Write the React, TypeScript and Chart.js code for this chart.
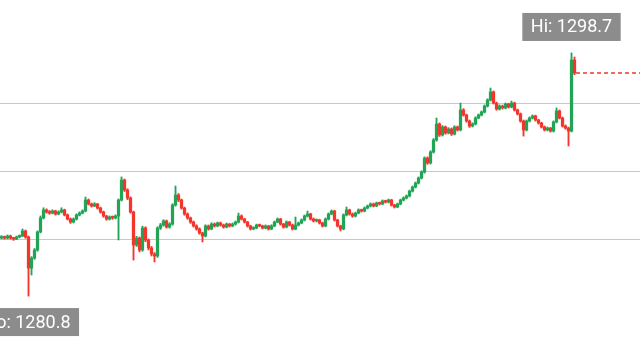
import React, { useEffect, useRef } from "react";
import { Chart, registerables } from "chart.js";

Chart.register(...registerables);

// ---- Data (prices) ----
const opens = [
  1285.07, 1285.15, 1285.07, 1285.22, 1285.07, 1285.00, 1285.15, 1285.22, 1285.59, 1285.15,
  1282.86, 1283.60, 1284.19, 1285.52, 1286.55, 1287.14, 1286.99, 1286.91, 1287.06, 1286.84,
  1286.99, 1287.14, 1286.77, 1286.47, 1286.25, 1286.47, 1286.77, 1286.91, 1287.06, 1287.87,
  1287.58, 1287.43, 1287.58, 1287.28, 1286.99, 1286.69, 1286.47, 1286.62, 1286.55, 1286.69,
  1287.87, 1289.34, 1288.61, 1288.02, 1286.99, 1284.56, 1285.07, 1284.19, 1285.81, 1284.93,
  1284.34, 1283.90, 1283.75, 1285.81, 1286.03, 1286.33, 1285.88, 1286.10, 1287.50, 1288.24,
  1287.87, 1287.28, 1286.84, 1286.55, 1286.25, 1285.96, 1285.74, 1285.44, 1285.22, 1285.96,
  1285.74, 1286.10, 1285.96, 1286.18, 1286.03, 1285.88, 1286.10, 1285.96, 1286.10, 1286.25,
  1286.69, 1286.47, 1286.25, 1285.96, 1285.74, 1285.81, 1286.03, 1285.96, 1285.81, 1285.96,
  1285.74, 1285.96, 1286.25, 1286.47, 1286.10, 1285.88, 1286.25, 1286.03, 1285.74, 1286.03,
  1286.18, 1286.40, 1286.69, 1286.84, 1286.47, 1286.33, 1286.40, 1286.18, 1285.96, 1286.47,
  1286.84, 1287.06, 1286.40, 1285.96, 1285.74, 1286.77, 1287.14, 1286.84, 1286.69, 1286.91,
  1287.14, 1287.06, 1287.28, 1287.43, 1287.58, 1287.43, 1287.65, 1287.58, 1287.80, 1287.72,
  1287.87, 1287.50, 1287.36, 1287.58, 1287.87, 1288.02, 1288.17, 1288.53, 1288.83, 1289.12,
  1289.49, 1289.93, 1290.96, 1290.60, 1291.41, 1292.29, 1293.47, 1292.66, 1293.25, 1292.81,
  1293.10, 1292.73, 1293.25, 1293.03, 1294.50, 1294.13, 1293.69, 1293.32, 1293.47, 1293.91,
  1294.13, 1294.35, 1294.79, 1295.24, 1295.83, 1295.01, 1294.57, 1294.79, 1294.65, 1294.94,
  1294.72, 1295.01, 1294.50, 1294.21, 1293.69, 1293.03, 1293.69, 1293.91, 1294.06, 1293.76,
  1293.54, 1293.25, 1293.03, 1293.17, 1292.95, 1293.62, 1294.43, 1293.91, 1293.32, 1293.17,
  1292.95, 1298.18,
];

const highs = [
  1285.25, 1285.22, 1285.30, 1285.29, 1285.12, 1285.22, 1285.30, 1285.74, 1285.66, 1285.22,
  1283.70, 1284.30, 1285.60, 1286.70, 1287.30, 1287.22, 1287.10, 1287.15, 1287.12, 1287.08,
  1287.30, 1287.20, 1286.85, 1286.55, 1286.55, 1286.85, 1287.00, 1287.15, 1288.09, 1287.95,
  1287.65, 1287.68, 1287.62, 1287.35, 1287.05, 1286.75, 1286.70, 1286.70, 1286.78, 1287.95,
  1289.57, 1289.42, 1288.70, 1288.10, 1287.05, 1285.20, 1285.15, 1285.95, 1285.90, 1285.00,
  1284.45, 1284.00, 1285.90, 1286.15, 1286.42, 1286.40, 1286.20, 1287.60, 1288.90, 1288.35,
  1287.95, 1287.35, 1286.92, 1286.62, 1286.32, 1286.05, 1285.82, 1285.50, 1286.05, 1286.03,
  1286.20, 1286.18, 1286.25, 1286.25, 1286.10, 1286.18, 1286.15, 1286.18, 1286.32, 1286.91,
  1286.78, 1286.52, 1286.30, 1286.02, 1285.90, 1286.10, 1286.10, 1286.02, 1286.04, 1286.00,
  1286.05, 1286.32, 1286.55, 1286.52, 1286.15, 1286.33, 1286.30, 1286.10, 1286.62, 1286.25,
  1286.48, 1286.77, 1287.06, 1286.90, 1286.55, 1286.48, 1286.46, 1286.24, 1286.55, 1286.92,
  1287.14, 1287.12, 1286.46, 1286.02, 1286.85, 1287.36, 1287.20, 1286.92, 1286.98, 1287.22,
  1287.20, 1287.36, 1287.50, 1287.66, 1287.64, 1287.72, 1287.72, 1287.88, 1287.86, 1287.95,
  1287.92, 1287.56, 1287.65, 1287.94, 1288.10, 1288.24, 1288.60, 1288.90, 1289.20, 1289.57,
  1290.02, 1291.05, 1291.05, 1291.50, 1292.40, 1293.91, 1293.55, 1293.35, 1293.32, 1293.20,
  1293.18, 1293.34, 1293.32, 1295.01, 1294.60, 1294.20, 1293.76, 1293.56, 1294.00, 1294.21,
  1294.43, 1294.87, 1295.32, 1296.12, 1295.90, 1295.08, 1294.88, 1294.86, 1295.02, 1295.00,
  1295.16, 1295.08, 1294.57, 1294.28, 1293.76, 1293.77, 1293.99, 1294.14, 1294.12, 1293.82,
  1293.60, 1293.32, 1293.25, 1293.22, 1293.70, 1294.65, 1294.50, 1293.98, 1293.40, 1293.24,
  1298.70, 1298.40,
];

const lows = [
  1285.00, 1284.98, 1285.00, 1284.99, 1284.90, 1284.95, 1285.08, 1285.18, 1285.05, 1280.80,
  1282.35, 1283.50, 1284.10, 1285.45, 1286.48, 1286.90, 1286.82, 1286.85, 1286.76, 1286.78,
  1286.92, 1286.70, 1286.40, 1286.15, 1286.18, 1286.40, 1286.70, 1286.85, 1287.00, 1287.50,
  1287.35, 1287.38, 1287.20, 1286.90, 1286.60, 1286.38, 1286.40, 1286.45, 1286.48, 1284.93,
  1287.80, 1288.50, 1287.90, 1286.90, 1283.45, 1284.45, 1284.05, 1284.10, 1284.80, 1284.20,
  1283.75, 1283.31, 1283.65, 1285.70, 1285.95, 1285.80, 1285.80, 1286.02, 1287.42, 1287.75,
  1287.20, 1286.75, 1286.45, 1286.15, 1285.88, 1285.65, 1285.35, 1284.78, 1285.15, 1285.65,
  1285.68, 1285.88, 1285.90, 1285.95, 1285.80, 1285.82, 1285.88, 1285.90, 1286.02, 1286.18,
  1286.40, 1286.18, 1285.88, 1285.66, 1285.68, 1285.75, 1285.90, 1285.74, 1285.75, 1285.66,
  1285.68, 1285.90, 1286.20, 1286.02, 1285.80, 1285.82, 1285.95, 1285.66, 1285.68, 1285.96,
  1286.12, 1286.33, 1286.62, 1286.40, 1286.25, 1286.26, 1286.10, 1285.88, 1285.90, 1286.40,
  1286.78, 1286.32, 1285.88, 1285.59, 1285.68, 1286.70, 1286.76, 1286.60, 1286.62, 1286.85,
  1286.98, 1287.00, 1287.22, 1287.36, 1287.36, 1287.38, 1287.50, 1287.52, 1287.65, 1287.66,
  1287.42, 1287.28, 1287.30, 1287.52, 1287.80, 1287.95, 1288.10, 1288.46, 1288.76, 1289.05,
  1289.42, 1289.85, 1290.50, 1290.52, 1291.33, 1292.20, 1292.55, 1292.58, 1292.72, 1292.74,
  1292.62, 1292.66, 1292.95, 1292.96, 1294.05, 1293.60, 1293.22, 1293.25, 1293.40, 1293.85,
  1294.06, 1294.28, 1294.72, 1295.16, 1294.94, 1294.48, 1294.50, 1294.57, 1294.58, 1294.64,
  1294.66, 1294.42, 1294.13, 1293.60, 1292.58, 1292.96, 1293.62, 1293.84, 1293.68, 1293.46,
  1293.17, 1292.95, 1292.96, 1292.87, 1292.88, 1293.55, 1293.84, 1293.24, 1293.08, 1291.85,
  1292.88, 1297.10,
];

const closes = [
  1285.15, 1285.07, 1285.22, 1285.07, 1285.00, 1285.15, 1285.22, 1285.59, 1285.15, 1282.86,
  1283.60, 1284.19, 1285.52, 1286.55, 1287.14, 1286.99, 1286.91, 1287.06, 1286.84, 1286.99,
  1287.14, 1286.77, 1286.47, 1286.25, 1286.47, 1286.77, 1286.91, 1287.06, 1287.87, 1287.58,
  1287.43, 1287.58, 1287.28, 1286.99, 1286.69, 1286.47, 1286.62, 1286.55, 1286.69, 1287.87,
  1289.34, 1288.61, 1288.02, 1286.99, 1284.56, 1285.07, 1284.19, 1285.81, 1284.93, 1284.34,
  1283.90, 1283.75, 1285.81, 1286.03, 1286.33, 1285.88, 1286.10, 1287.50, 1288.24, 1287.87,
  1287.28, 1286.84, 1286.55, 1286.25, 1285.96, 1285.74, 1285.44, 1285.22, 1285.96, 1285.74,
  1286.10, 1285.96, 1286.18, 1286.03, 1285.88, 1286.10, 1285.96, 1286.10, 1286.25, 1286.69,
  1286.47, 1286.25, 1285.96, 1285.74, 1285.81, 1286.03, 1285.96, 1285.81, 1285.96, 1285.74,
  1285.96, 1286.25, 1286.47, 1286.10, 1285.88, 1286.25, 1286.03, 1285.74, 1286.03, 1286.18,
  1286.40, 1286.69, 1286.84, 1286.47, 1286.33, 1286.40, 1286.18, 1285.96, 1286.47, 1286.84,
  1287.06, 1286.40, 1285.96, 1285.74, 1286.77, 1287.14, 1286.84, 1286.69, 1286.91, 1287.14,
  1287.06, 1287.28, 1287.43, 1287.58, 1287.43, 1287.65, 1287.58, 1287.80, 1287.72, 1287.87,
  1287.50, 1287.36, 1287.58, 1287.87, 1288.02, 1288.17, 1288.53, 1288.83, 1289.12, 1289.49,
  1289.93, 1290.96, 1290.60, 1291.41, 1292.29, 1293.47, 1292.66, 1293.25, 1292.81, 1293.10,
  1292.73, 1293.25, 1293.03, 1294.50, 1294.13, 1293.69, 1293.32, 1293.47, 1293.91, 1294.13,
  1294.35, 1294.79, 1295.24, 1295.83, 1295.01, 1294.57, 1294.79, 1294.65, 1294.94, 1294.72,
  1295.01, 1294.50, 1294.21, 1293.69, 1293.03, 1293.69, 1293.91, 1294.06, 1293.76, 1293.54,
  1293.25, 1293.03, 1293.17, 1292.95, 1293.62, 1294.43, 1293.91, 1293.32, 1293.17, 1292.95,
  1298.18, 1297.22,
];

const gridLevels = [1285, 1290, 1295];
const priceMin = 1277.49;
const priceMax = 1302.6;
const totalSlots = 213.33; // candle slots across the full width (future space on the right)

const UP = "#22a356";
const DOWN = "#f3352b";
const FLAT = "#9a9a9a";
const TAG_BG = "#8c8c8c";

function candleColor(i: number) {
  if (closes[i] > opens[i]) return UP;
  if (closes[i] < opens[i]) return DOWN;
  return FLAT;
}

const overlayPlugin = {
  id: "overlay",
  afterDatasetsDraw(chart: any) {
    const { ctx } = chart;
    const xs = chart.scales.x;
    const ys = chart.scales.y;

    // last price dashed line
    const last = closes.length - 1;
    const lx = xs.getPixelForValue(last) + 1.5;
    const ly = ys.getPixelForValue(closes[last]);
    ctx.save();
    ctx.strokeStyle = candleColor(last);
    ctx.lineWidth = 1.5;
    ctx.setLineDash([4, 3]);
    ctx.beginPath();
    ctx.moveTo(lx, ly);
    ctx.lineTo(chart.width, ly);
    ctx.stroke();
    ctx.restore();

    // Hi / Lo tags
    let hiIdx = 0;
    let loIdx = 0;
    highs.forEach((h, i) => {
      if (h > highs[hiIdx]) hiIdx = i;
    });
    lows.forEach((l, i) => {
      if (l < lows[loIdx]) loIdx = i;
    });

    const drawTag = (text: string, cx: number, edgeY: number, above: boolean) => {
      ctx.save();
      ctx.font = "18px Roboto, 'Liberation Sans', sans-serif";
      const w = ctx.measureText(text).width + 17;
      const h = 28;
      const x0 = cx - w / 2;
      const y0 = above ? edgeY - 12 - h : edgeY + 12;
      ctx.fillStyle = TAG_BG;
      ctx.fillRect(x0, y0, w, h);
      ctx.fillStyle = "#ffffff";
      ctx.textAlign = "center";
      ctx.textBaseline = "middle";
      ctx.fillText(text, cx, y0 + h / 2 + 1);
      ctx.restore();
    };

    drawTag(
      "Hi: " + highs[hiIdx].toFixed(1),
      xs.getPixelForValue(hiIdx),
      ys.getPixelForValue(highs[hiIdx]),
      true
    );
    drawTag(
      "Lo: " + lows[loIdx].toFixed(1),
      xs.getPixelForValue(loIdx),
      ys.getPixelForValue(lows[loIdx]),
      false
    );
  },
};

export default function App() {
  const canvasRef = useRef<HTMLCanvasElement | null>(null);

  useEffect(() => {
    if (!canvasRef.current) return;
    const colors = closes.map((_, i) => candleColor(i));
    const wickData = lows.map((l, i) => ({ x: i, y: [l, highs[i]] }));
    const bodyData = opens.map((o, i) => ({ x: i, y: [o, closes[i]] }));

    const chart = new Chart(canvasRef.current, {
      type: "bar",
      data: {
        datasets: [
          {
            label: "body",
            data: bodyData as any,
            backgroundColor: colors,
            borderWidth: 0,
            barThickness: 2.6,
            minBarLength: 1.5,
            grouped: false,
          } as any,
          {
            label: "wick",
            data: wickData as any,
            backgroundColor: colors,
            borderWidth: 0,
            barThickness: 1.2,
            grouped: false,
          } as any,
        ],
      },
      options: {
        animation: false,
        responsive: false,
        maintainAspectRatio: false,
        layout: { padding: 0 },
        plugins: {
          legend: { display: false },
          tooltip: { enabled: false },
        },
        scales: {
          x: {
            type: "linear",
            display: false,
            offset: false,
            min: -0.5,
            max: totalSlots - 0.5,
          },
          y: {
            type: "linear",
            display: true,
            min: priceMin,
            max: priceMax,
            afterBuildTicks: (scale: any) => {
              scale.ticks = gridLevels.map((v) => ({ value: v }));
            },
            ticks: { display: false },
            border: { display: false },
            grid: {
              color: "#c9c9c9",
              lineWidth: 1,
              drawTicks: false,
            },
          },
        },
      } as any,
      plugins: [overlayPlugin],
    });

    return () => chart.destroy();
  }, []);

  return (
    <div
      style={{
        position: "fixed",
        left: 0,
        top: 0,
        width: 640,
        height: 341,
        background: "#ffffff",
      }}
    >
      <canvas ref={canvasRef} width={640} height={341} style={{ display: "block" }} />
    </div>
  );
}
